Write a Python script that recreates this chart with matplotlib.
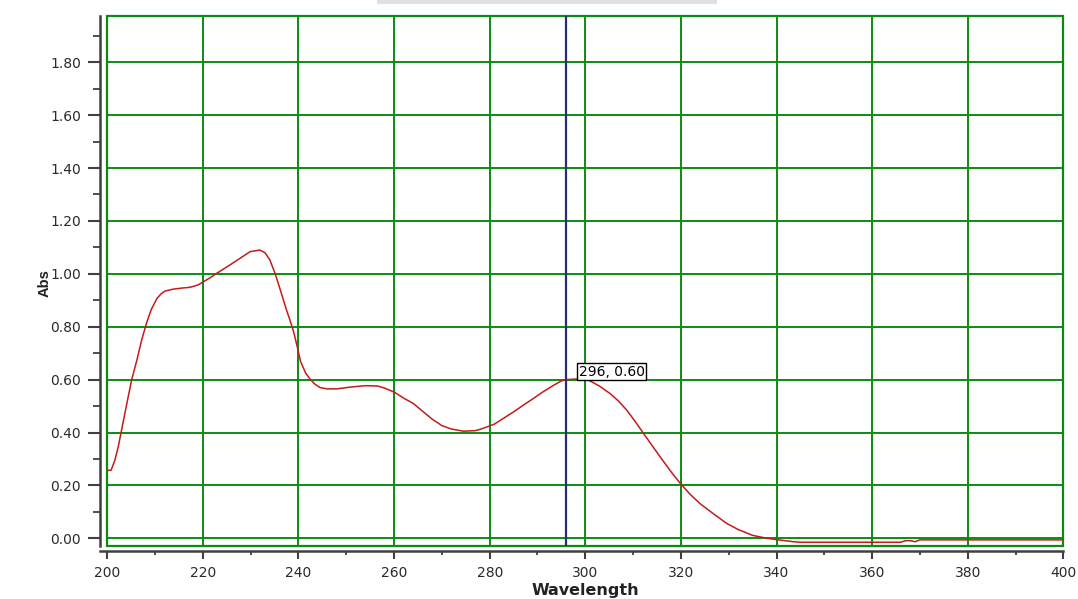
import matplotlib
matplotlib.use("Agg")
import matplotlib.pyplot as plt
from matplotlib.patches import Rectangle
from matplotlib.ticker import MultipleLocator, FormatStrFormatter

wavelength = [200, 200.8, 201.6, 202.3, 203, 204.1, 205.1, 206.2, 207.2, 208.2, 209.2, 210.4,
              211.3, 212.1, 213.8, 215.5, 217.3, 219, 220.1, 221.5, 222.9, 224.3, 225.7,
              227.8, 229.9, 231.9, 233, 234, 235.1, 236.1, 237.5, 238.2, 239, 239.8, 240.4,
              241.5, 242.5, 243.5, 244.5, 246, 248, 251, 254, 256.5, 258, 260, 262, 264, 266,
              268, 270, 272, 274.5, 277, 278, 280, 281, 283, 285, 287, 289, 291, 293.4, 295,
              296, 298, 300.7, 303, 305.2, 307, 308.7, 310.5, 312.2, 314, 315.7, 318, 319.9,
              322, 324, 327, 329.6, 332, 335, 338, 340, 343.5, 345, 366, 367, 368, 369, 370, 400]
absorbance = [0.257, 0.257, 0.296, 0.346, 0.41, 0.51, 0.599, 0.674, 0.75, 0.813, 0.865, 0.907,
              0.925, 0.935, 0.942, 0.946, 0.949, 0.958, 0.970, 0.985, 1.002, 1.018, 1.034,
              1.059, 1.084, 1.090, 1.080, 1.053, 1.002, 0.945, 0.863, 0.826, 0.78, 0.72, 0.67,
              0.625, 0.60, 0.582, 0.570, 0.565, 0.565, 0.572, 0.577, 0.576, 0.568, 0.553, 0.53,
              0.51, 0.48, 0.45, 0.426, 0.413, 0.405, 0.407, 0.412, 0.425, 0.432, 0.455, 0.478,
              0.503, 0.527, 0.552, 0.579, 0.595, 0.600, 0.602, 0.598, 0.575, 0.547, 0.518,
              0.484, 0.44, 0.396, 0.35, 0.307, 0.25, 0.207, 0.165, 0.131, 0.09, 0.056, 0.033,
              0.011, 0.0, -0.005, -0.013, -0.015, -0.015, -0.009, -0.009, -0.013, -0.006, -0.006]

cursor_x = 296
cursor_label = "296, 0.60"
x_ticks = [200, 220, 240, 260, 280, 300, 320, 340, 360, 380, 400]
y_ticks = [0.0, 0.2, 0.4, 0.6, 0.8, 1.0, 1.2, 1.4, 1.6, 1.8]

plt.rcParams['font.family'] = ['DejaVu Sans']

fig = plt.figure(figsize=(10.78, 5.99), dpi=100)
ax = fig.add_axes([0.0995, 0.089, 0.8869, 0.8843])

grid_green = '#0a8c14'
ax.set_xlim(200, 400)
ax.set_ylim(-0.028, 1.975)
ax.set_xticks(x_ticks)
ax.set_yticks(y_ticks)
ax.xaxis.set_minor_locator(MultipleLocator(10))
ax.yaxis.set_minor_locator(MultipleLocator(0.1))
ax.yaxis.set_major_formatter(FormatStrFormatter('%.2f'))
ax.grid(True, which='major', color=grid_green, linewidth=1.4)
ax.set_axisbelow(True)

for s in ['top', 'right']:
    ax.spines[s].set_visible(False)
ax.spines['left'].set_position(('outward', 5))
ax.spines['bottom'].set_position(('outward', 3.6))
for s in ['left', 'bottom']:
    ax.spines[s].set_color('#404040')
    ax.spines[s].set_linewidth(1.8)
ax.spines['left'].set_bounds(-0.028, 1.975)
ax.spines['bottom'].set_bounds(198.5, 400)

# green frame of plot area
ax.add_patch(Rectangle((0, 0), 1, 1, transform=ax.transAxes, fill=False,
                       edgecolor=grid_green, linewidth=1.6, zorder=1, clip_on=False))

ax.tick_params(axis='both', which='major', colors='#404040', labelcolor='#2a2a2a',
               labelsize=10, width=1.5)
ax.tick_params(axis='y', which='major', length=9, pad=5)
ax.tick_params(axis='y', which='minor', length=5, width=1.3, colors='#404040')
ax.tick_params(axis='x', which='major', length=6, pad=5)
ax.tick_params(axis='x', which='minor', length=3, width=1.3, colors='#404040')

ax.plot(wavelength, absorbance, color='#c41a1a', linewidth=1.1, zorder=3)
ax.axvline(cursor_x, color='#27306e', linewidth=1.6, zorder=4)

ax.text(298.6, 0.63, cursor_label, fontsize=10, color='black', ha='left', va='center',
        bbox=dict(boxstyle='square,pad=0.12', fc='white', ec='black', lw=1.0), zorder=5)

fig.text(585 / 1078, 1 - 591 / 599, 'Wavelength', fontsize=11.5, fontweight='bold',
         ha='center', va='center', color='#222222')
fig.text(45 / 1078, 1 - 283 / 599, 'Abs', fontsize=10.5, fontweight='bold', rotation=90,
         ha='center', va='center', color='#222222', family=['Liberation Sans Narrow', 'Liberation Sans'])

fig.add_artist(Rectangle((377 / 1078, 1 - 4 / 599), 340 / 1078, 4 / 599,
                         transform=fig.transFigure, color='#e0e0e0', lw=0))

fig.savefig('out.png', dpi=100)
